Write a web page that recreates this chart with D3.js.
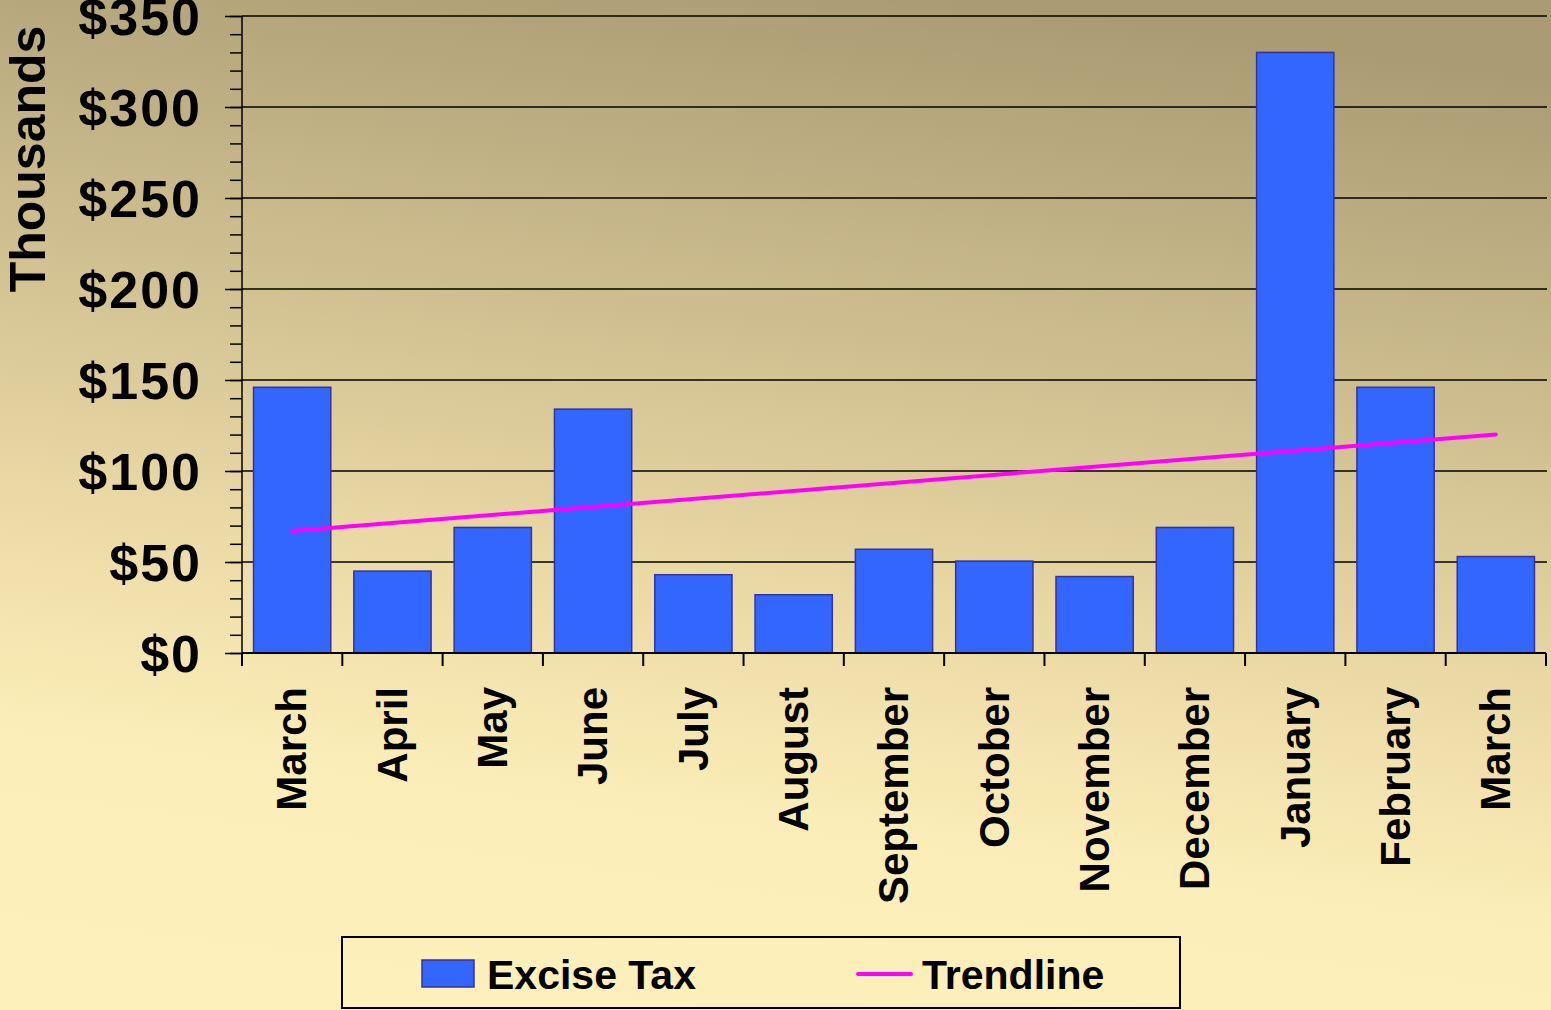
<!DOCTYPE html>
<html>
<head>
<meta charset="utf-8">
<script src="https://cdnjs.cloudflare.com/ajax/libs/d3/7.8.5/d3.min.js"></script>
<style>
  html, body { margin: 0; padding: 0; background: #f6e6b0; }
  svg { display: block; }
  text { font-family: "Liberation Sans", Arial, sans-serif; font-weight: bold; fill: #000; }
</style>
</head>
<body>
<svg id="chart" width="1551" height="1010"></svg>
<script>
// chart data (thousands of dollars)
var months = ["March", "April", "May", "June", "July", "August", "September",
              "October", "November", "December", "January", "February", "March"];
var exciseTax = [146, 45, 69, 134, 43, 32, 57, 50.5, 42, 69, 330, 146, 53];
// trendline end values
var trendEnds = [67, 120];
var yTicks = [0, 50, 100, 150, 200, 250, 300, 350];

var W = 1551, H = 1010;
var plotLeft = 242, plotRight = 1546, plotTop = 16, plotBottom = 653;

var svg = d3.select("#chart");

// background gradient
var defs = svg.append("defs");
var grad = defs.append("linearGradient")
        .attr("id", "bg")
        .attr("x1", "0.62").attr("y1", "0")
        .attr("x2", "0.42").attr("y2", "1");
grad.append("stop").attr("offset", "0").attr("stop-color", "#aa9b73");
grad.append("stop").attr("offset", "0.33").attr("stop-color", "#cebe8f");
grad.append("stop").attr("offset", "0.62").attr("stop-color", "#eedca8");
grad.append("stop").attr("offset", "0.8").attr("stop-color", "#fbedb7");
grad.append("stop").attr("offset", "1").attr("stop-color", "#fdf0ba");

svg.append("rect")
        .attr("width", W).attr("height", H)
        .attr("fill", "url(#bg)");

var x = d3.scaleBand()
        .domain(d3.range(months.length))
        .range([plotLeft, plotRight])
        .paddingInner(0.23)
        .paddingOuter(0.115);

var y = d3.scaleLinear()
        .domain([0, 350])
        .range([plotBottom, plotTop]);

// gridlines
svg.append("g")
        .selectAll("line")
        .data(yTicks.filter(function(d) { return d > 0; }))
        .join("line")
        .attr("x1", plotLeft).attr("x2", plotRight + 1)
        .attr("y1", function(d) { return y(d); })
        .attr("y2", function(d) { return y(d); })
        .attr("stroke", "#000")
        .attr("stroke-width", 1.5);

// minor ticks on y axis
svg.append("g")
        .attr("transform", "translate(" + plotLeft + ",0)")
        .call(d3.axisLeft(y).ticks(35).tickSize(12).tickFormat(""))
        .call(function(g) {
            g.select(".domain").remove();
            g.selectAll("line").attr("stroke-width", 1.5);
        });

// major y axis
svg.append("g")
        .attr("transform", "translate(" + plotLeft + ",0)")
        .call(d3.axisLeft(y).tickValues(yTicks).tickSize(17).tickPadding(23)
                .tickFormat(function(d) { return "$" + d; }))
        .call(function(g) {
            g.select(".domain").attr("stroke-width", 1.5)
                    .attr("d", "M0," + plotTop + "V" + plotBottom);
            g.selectAll("line").attr("stroke-width", 1.5);
            g.selectAll("text")
                    .attr("font-size", "52px")
                    .attr("font-family", "'Liberation Sans', Arial, sans-serif")
                    .attr("font-weight", "bold")
                    .attr("letter-spacing", "2px")
                    .attr("fill", "#000")
                    .attr("dy", "0.36em");
        });

// bars
svg.append("g")
        .selectAll("rect")
        .data(exciseTax)
        .join("rect")
        .attr("x", function(d, i) { return x(i); })
        .attr("y", function(d) { return y(d); })
        .attr("width", x.bandwidth())
        .attr("height", function(d) { return y(0) - y(d); })
        .attr("fill", "#3366ff")
        .attr("stroke", "#333399")
        .attr("stroke-width", 1.5);

// x axis line and ticks at band boundaries
svg.append("line")
        .attr("x1", plotLeft).attr("x2", plotRight)
        .attr("y1", plotBottom).attr("y2", plotBottom)
        .attr("stroke", "#000").attr("stroke-width", 2);

svg.append("g")
        .selectAll("line")
        .data(d3.range(months.length + 1))
        .join("line")
        .attr("x1", function(i) { return plotLeft + i * x.step(); })
        .attr("x2", function(i) { return plotLeft + i * x.step(); })
        .attr("y1", plotBottom).attr("y2", plotBottom + 13)
        .attr("stroke", "#000").attr("stroke-width", 2);

// month labels
svg.append("g")
        .selectAll("text")
        .data(months)
        .join("text")
        .attr("transform", function(d, i) {
            return "translate(" + (x(i) + x.bandwidth() / 2) + "," + (plotBottom + 34) + ") rotate(-90)";
        })
        .attr("text-anchor", "end")
        .attr("dy", "0.34em")
        .attr("font-size", "42px")
        .text(function(d) { return d; });

// trendline
var trend = d3.line()
        .x(function(d) { return x(d[0]) + x.bandwidth() / 2; })
        .y(function(d) { return y(d[1]); });

svg.append("path")
        .datum([[0, trendEnds[0]], [months.length - 1, trendEnds[1]]])
        .attr("d", trend)
        .attr("fill", "none")
        .attr("stroke", "#ff00ff")
        .attr("stroke-width", 4)
        .attr("stroke-linecap", "round");

// y axis title
svg.append("text")
        .attr("transform", "translate(45,159) rotate(-90)")
        .attr("text-anchor", "middle")
        .attr("font-size", "50px")
        .text("Thousands");

// legend
var legend = svg.append("g");
legend.append("rect")
        .attr("x", 342).attr("y", 937)
        .attr("width", 838).attr("height", 71)
        .attr("fill", "none")
        .attr("stroke", "#000")
        .attr("stroke-width", 2);
legend.append("rect")
        .attr("x", 422).attr("y", 960)
        .attr("width", 52).attr("height", 27)
        .attr("fill", "#3366ff")
        .attr("stroke", "#333399")
        .attr("stroke-width", 1.5);
legend.append("text")
        .attr("x", 487).attr("y", 989)
        .attr("font-size", "41px")
        .text("Excise Tax");
legend.append("line")
        .attr("x1", 858).attr("x2", 911)
        .attr("y1", 974).attr("y2", 974)
        .attr("stroke", "#ff00ff")
        .attr("stroke-width", 4)
        .attr("stroke-linecap", "round");
legend.append("text")
        .attr("x", 922).attr("y", 989)
        .attr("font-size", "41px")
        .text("Trendline");
</script>
</body>
</html>
